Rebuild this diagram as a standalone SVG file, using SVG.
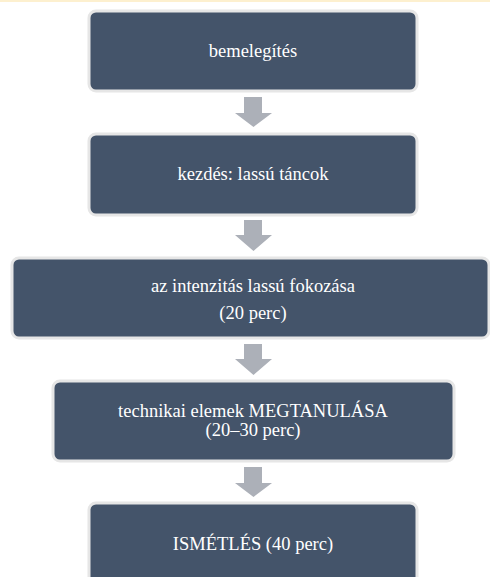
<svg xmlns="http://www.w3.org/2000/svg" width="490" height="577" viewBox="0 0 490 577">
<style>
.box{fill:#44546a;stroke:#e6e6e6;stroke-width:3}
.arr{fill:#acb0b8}
.t{font-family:'Liberation Serif','Times New Roman',serif;font-size:18.5px;fill:#ffffff;text-anchor:middle}
</style>
<rect width="490" height="577" fill="#ffffff"/>
<rect x="0" y="0" width="490" height="2" fill="#fdf0cf"/>
<g id="connectors">
<path class="arr" d="M244,97 H262 V113 H272 L253.5,127 L235,113 H244 Z"/>
<path class="arr" d="M244,220 H262 V235 H272 L253.5,251 L235,235 H244 Z"/>
<path class="arr" d="M244,344 H262 V359 H272 L253.5,375 L235,359 H244 Z"/>
<path class="arr" d="M244,467 H262 V483 H272 L253.5,497 L235,483 H244 Z"/>
</g>
<g id="n1">
<rect class="box" x="89" y="11" width="328" height="80" rx="7"/>
<text class="t" x="253" y="57">bemelegítés</text>
</g>
<g id="n2">
<rect class="box" x="89" y="134" width="328" height="81" rx="7"/>
<text class="t" x="253" y="180">kezdés: lassú táncok</text>
</g>
<g id="n3">
<rect class="box" x="12" y="258" width="477" height="80" rx="7"/>
<text class="t" x="253" y="292">az intenzitás lassú fokozása</text>
<text class="t" x="253" y="319">(20 perc)</text>
</g>
<g id="n4">
<rect class="box" x="53" y="381" width="401" height="80" rx="7"/>
<text class="t" x="253" y="417">technikai elemek MEGTANULÁSA</text>
<text class="t" x="253" y="436">(20–30 perc)</text>
</g>
<g id="n5">
<rect class="box" x="89" y="503" width="328" height="81" rx="7"/>
<text class="t" x="253" y="550">ISMÉTLÉS (40 perc)</text>
</g>
</svg>
